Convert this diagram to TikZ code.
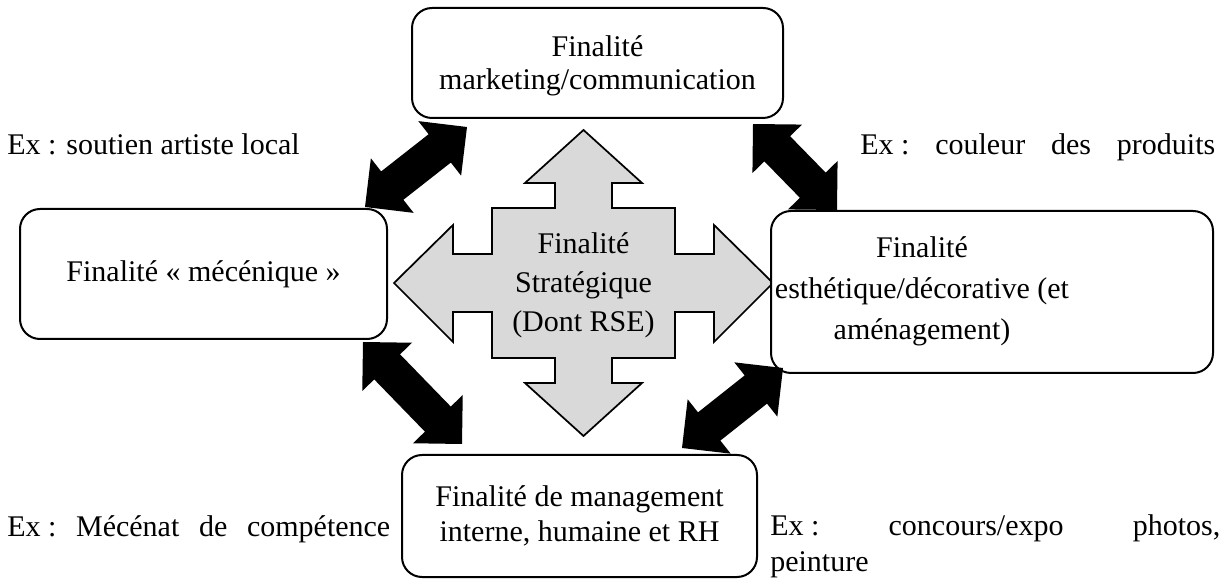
\documentclass[tikz,border=0pt]{standalone}
\usepackage{fontspec}
\setmainfont{Liberation Serif}
\usetikzlibrary{calc}
\definecolor{crossgray}{RGB}{217,217,217}
\newcommand\fnt[1]{\fontsize{22.5pt}{#1}\selectfont}
% thick black double-headed arrow between two named coordinates
\newcommand\blkarrow[2]{%
  \fill[black, line join=miter]
    (#1)
    -- ($(#1)!26pt!(#2)!26pt!90:(#2)$)
    -- ($(#1)!26pt!(#2)!13.5pt!90:(#2)$)
    -- ($(#2)!26pt!(#1)!13.5pt!-90:(#1)$)
    -- ($(#2)!26pt!(#1)!26pt!-90:(#1)$)
    -- (#2)
    -- ($(#2)!26pt!(#1)!26pt!90:(#1)$)
    -- ($(#2)!26pt!(#1)!13.5pt!90:(#1)$)
    -- ($(#1)!26pt!(#2)!13.5pt!-90:(#2)$)
    -- ($(#1)!26pt!(#2)!26pt!-90:(#2)$)
    -- cycle;}
\begin{document}
\begin{tikzpicture}[x=0.75pt,y=-0.75pt,
  box/.style={draw=black, line width=1.5pt, rounded corners=15pt, fill=white,
              align=center, inner sep=0pt},
  extext/.style={inner sep=0pt, font=\fnt{27pt}},
  boxtext/.style={inner sep=0pt, align=center}]
\useasboundingbox (0,0) rectangle (1228,580);

% central grey four-way arrow
\draw[fill=crossgray, line width=1.3pt, line join=miter]
  (583.5,130) -- (642,183) -- (612,183) -- (612,208) -- (675,208) -- (675,254)
  -- (714,254) -- (714,225) -- (773,283) -- (714,342) -- (714,312) -- (675,312)
  -- (675,358) -- (612,358) -- (612,383) -- (642,383) -- (583.5,436) -- (525,383)
  -- (555,383) -- (555,358) -- (492,358) -- (492,312) -- (453,312) -- (453,342)
  -- (394,283) -- (453,225) -- (453,254) -- (492,254) -- (492,208) -- (555,208)
  -- (555,183) -- (525,183) -- cycle;
\node[boxtext, font=\fnt{29.25pt}] (strat) at (583.5,285)
  {Finalité\\Stratégique\\(Dont RSE)};

% boxes
\node[box, minimum width=278.25pt, minimum height=82.5pt] (top) at (597.5,63) {};
\node[boxtext, font=\fnt{24.75pt}] (toptext) at (597.5,66)
  {Finalité\\marketing/communication};
\node[box, minimum width=275.25pt, minimum height=97.5pt, font=\fnt{27pt}]
  (left) at (203.5,274) {Finalité « mécénique »};
\node[box, minimum width=331.5pt, minimum height=121.5pt]
  (right) at (992,292) {};
\node[boxtext, font=\fnt{30.75pt}] (righttext) at (922,291)
  {Finalité\\esthétique/décorative (et\\aménagement)};
\node[box, minimum width=266.25pt, minimum height=91.5pt, font=\fnt{26.25pt}]
  (bottom) at (579.5,516) {Finalité de management\\interne, humaine et RH};

% arrow end points
\coordinate (tlA) at (365,207);
\coordinate (tlB) at (467,127);
\coordinate (trA) at (753,124);
\coordinate (trB) at (837,210);
\coordinate (blA) at (363,342);
\coordinate (blB) at (462,444);
\coordinate (brA) at (783,368);
\coordinate (brB) at (682,448);
\blkarrow{tlA}{tlB}
\blkarrow{trA}{trB}
\blkarrow{blA}{blB}
\blkarrow{brA}{brB}

% example texts
\node[extext, anchor=base west] (exTL) at (7,155) {Ex : soutien artiste local};
\node[extext, anchor=base west] (exTR) at (860,155)
  {\makebox[266.25pt][s]{\mbox{Ex :} couleur des produits}};
\node[extext, anchor=base west] (exBL) at (7,537)
  {\makebox[287.25pt][s]{\mbox{Ex :} Mécénat de compétence}};
\node[extext, anchor=north west, text width=337.5pt, align=justify] (exBR) at (770,514)
  {\mbox{Ex :} concours/expo photos,\linebreak peinture};
\end{tikzpicture}
\end{document}
